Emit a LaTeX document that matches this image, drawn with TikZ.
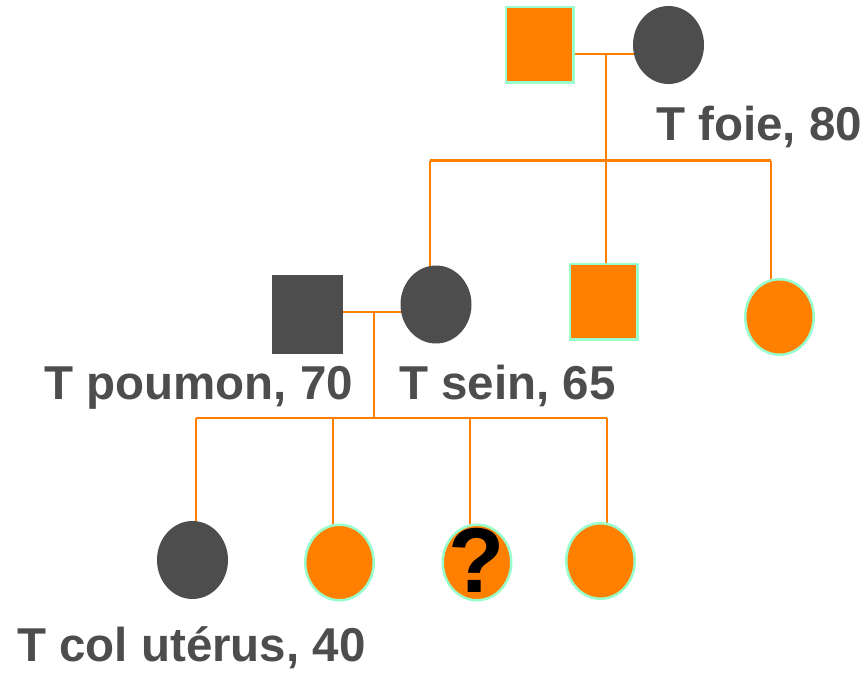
\documentclass[tikz,border=0pt]{standalone}
\usepackage{fontspec}
\setmainfont{Liberation Sans}
\usetikzlibrary{shapes.geometric,backgrounds}
\definecolor{pedorange}{HTML}{FF8000}
\definecolor{pedgreen}{HTML}{99FFCC}
\definecolor{peddark}{HTML}{4D4D4D}
\tikzset{
  link/.style={draw=pedorange, line width=2.6pt},
  healthy male/.style={rectangle, fill=pedorange, draw=pedgreen, line width=2.5pt,
    minimum width=67.5pt, minimum height=75.5pt, inner sep=0pt},
  healthy female/.style={ellipse, fill=pedorange, draw=pedgreen, line width=2.5pt,
    minimum width=68.5pt, minimum height=75.5pt, inner sep=0pt},
  affected male/.style={rectangle, fill=peddark, minimum width=71pt, minimum height=79pt, inner sep=0pt},
  affected female/.style={ellipse, fill=peddark, minimum width=71pt, minimum height=78pt, inner sep=0pt},
  tumour/.style={anchor=base west, inner sep=0pt, text=peddark,
    font=\bfseries\fontsize{47.5}{56}\selectfont},
  unknown/.style={inner sep=0pt, text=black, font=\bfseries\fontsize{92}{92}\selectfont},
}
\begin{document}
\begin{tikzpicture}[x=1pt,y=-1pt]
\useasboundingbox (0,0) rectangle (867,674);

% generation I
\node[healthy male]   (gf) at (539.5,45) {};
\node[affected female] (gm) at (668.5,45) {};
% generation II
\node[affected male]  (fa) at (307.5,314.5) {};
\node[affected female] (mo) at (436,304.5) {};
\node[healthy male]   (un) at (603.5,301.5) {};
\node[healthy female] (au) at (779.5,317) {};
% generation III
\node[affected female] (c1) at (192.5,560) {};
\node[healthy female] (c2) at (339.5,562.5) {};
\node[healthy female] (c3) at (477,562.5) {};
\node[healthy female] (c4) at (600.5,561) {};
\node[unknown] (q) at ([yshift=2pt]c3.center) {?};

% union and sibship points
\coordinate (u1)  at (606,54);
\coordinate (s1)  at (606,160.5);
\coordinate (s1l) at (430,160.5);
\coordinate (s1r) at (771,160.5);
\coordinate (u2)  at (374,312);
\coordinate (s2)  at (374,418);
\coordinate (s2l) at (196,418);
\coordinate (d2)  at (333,418);
\coordinate (d3)  at (470,418);
\coordinate (s2r) at (607,418);

\begin{scope}[on background layer]
  \draw[link] (gf.east |- u1) -- (gm.center |- u1);
  \draw[link] (u1) -- (s1);
  \draw[link] (s1l) -- (s1r);
  \draw[link] (s1l) -- (s1l |- mo.center);
  \draw[link] (s1) -- (s1 |- un.center);
  \draw[link] (s1r) -- (s1r |- au.center);
  \draw[link] (fa.east |- u2) -- (mo.center |- u2);
  \draw[link] (u2) -- (s2);
  \draw[link] (s2l) -- (s2r);
  \draw[link] (s2l) -- (s2l |- c1.center);
  \draw[link] (d2) -- (d2 |- c2.center);
  \draw[link] (d3) -- (d3 |- c3.center);
  \draw[link] (s2r) -- (s2r |- c4.center);
\end{scope}

% tumour labels
\node[tumour] (t1) at (656,141) {T foie, 80};
\node[tumour] (t2) at (44,399) {T poumon, 70};
\node[tumour] (t3) at (399,399) {T sein, 65};
\node[tumour] (t4) at (17,661) {T col utérus, 40};
\end{tikzpicture}
\end{document}
